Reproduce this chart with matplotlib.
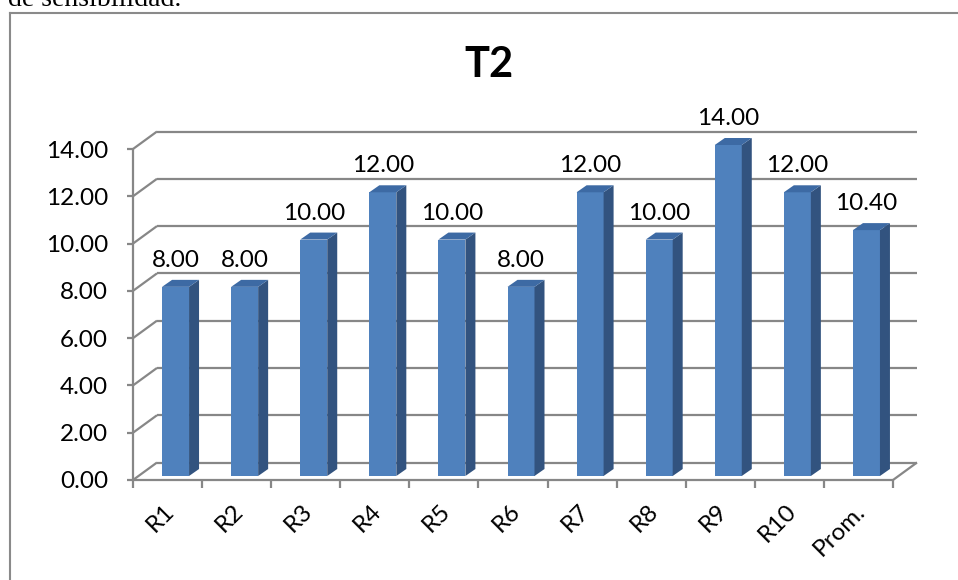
import matplotlib
matplotlib.use("Agg")
import matplotlib.pyplot as plt
from matplotlib.patches import Polygon, Rectangle
from matplotlib.lines import Line2D

# ---- data ----
categories = ["R1", "R2", "R3", "R4", "R5", "R6", "R7", "R8", "R9", "R10", "Prom."]
values = [8.00, 8.00, 10.00, 12.00, 10.00, 8.00, 12.00, 10.00, 14.00, 12.00, 10.40]
y_ticks = [0, 2, 4, 6, 8, 10, 12, 14]
title = "T2"
caption = "de sensibilidad."

# ---- styling ----
FONT = ["Lato", "DejaVu Sans"]
FS = 17.5
GRID = "#878787"
FRONT = "#4F81BD"
SIDE = "#32537F"
TOP = "#3D6AA4"

W, H = 958, 580
fig = plt.figure(figsize=(W / 100, H / 100), dpi=100)
fig.patch.set_facecolor("white")

# front plane of the plot area (pixel positions)
px_left, px_right = 133, 893
px_zero, px_top = 480, 149
ymax = y_ticks[-1]
n = len(categories)
ax = fig.add_axes([px_left / W, 1 - px_zero / H,
                   (px_right - px_left) / W, (px_zero - px_top) / H])
ax.set_xlim(0, n)
ax.set_ylim(0, ymax)
ax.axis("off")

sx = (px_right - px_left) / n       # pixels per category
sy = (px_zero - px_top) / ymax      # pixels per value unit


def px(dx, dy):
    """pixel offset -> data offset"""
    return dx / sx, dy / sy


line_kw = dict(color=GRID, lw=1.6, clip_on=False, solid_capstyle="butt")

# walls: side wall diagonals + back wall gridlines
DX, DY = px(24, 17.5)
for t in y_ticks:
    ax.plot([0, DX], [t, t + DY], **line_kw)
    ax.plot([DX, n + DX], [t + DY, t + DY], **line_kw)
    tx, _ = px(6, 0)
    ax.plot([-tx, 0], [t, t], **line_kw)
    _, ly = px(0, 8.5)
    ax.text(-px(25, 0)[0], t - ly, f"{t:.2f}", ha="right", va="baseline",
            fontsize=FS, family=FONT, color="black")

# front y axis, floor edges
ax.plot([0, 0], [0, ymax], **line_kw)
ax.plot([0, n], [0, 0], **line_kw)
ax.plot([n, n + DX], [0, DY], **line_kw)

# category ticks and labels
_, tk = px(0, 8)
for i in range(n + 1):
    ax.plot([i, i], [0, -tk], **line_kw)
lx, ly = px(-4, 20)
for i, c in enumerate(categories):
    ax.text(i + 0.5 + lx, -ly, c, rotation=45, rotation_mode="anchor",
            ha="right", va="top", fontsize=FS, family=FONT, color="black")

# bars (front, side, top faces)
shift, fb = px(8, 4)
bw, _ = px(27, 0)
sdx, sdy = px(10, 7)
_, lab = px(0, 13)
for i, v in enumerate(values):
    cx = i + 0.5 + shift
    l, r = cx - bw / 2, cx + bw / 2
    b, t = fb, fb + v
    ax.add_patch(Rectangle((l, b), bw, v, facecolor=FRONT, edgecolor="none",
                           clip_on=False, zorder=3))
    ax.add_patch(Polygon([(r, b), (r + sdx, b + sdy), (r + sdx, t + sdy), (r, t)],
                         closed=True, facecolor=SIDE, edgecolor="none",
                         clip_on=False, zorder=3))
    ax.add_patch(Polygon([(l, t), (r, t), (r + sdx, t + sdy), (l + sdx, t + sdy)],
                         closed=True, facecolor=TOP, edgecolor="none",
                         clip_on=False, zorder=3))
    ax.text(cx, t + sdy + lab, f"{v:.2f}", ha="center", va="baseline",
            fontsize=FS, family=FONT, color="black", zorder=4)

# title
fig.text(488.5 / W, 1 - 77 / H, title, ha="center", va="baseline",
         fontsize=30, fontweight="bold", family=FONT, color="black")

# chart frame (left and top edges)
fig.add_artist(Line2D([9.5 / W, 9.5 / W], [0, 1 - 12.5 / H],
                      transform=fig.transFigure, color="#8A8A8A", lw=1.5))
fig.add_artist(Line2D([9.5 / W, 1], [1 - 12.5 / H, 1 - 12.5 / H],
                      transform=fig.transFigure, color="#8A8A8A", lw=1.5))

# surrounding document text
fig.text(8 / W, 1 - 6 / H, caption, ha="left", va="baseline",
         fontsize=20, family=["Liberation Serif", "DejaVu Serif"], color="black")

fig.savefig("out.png", dpi=100, facecolor="white")
